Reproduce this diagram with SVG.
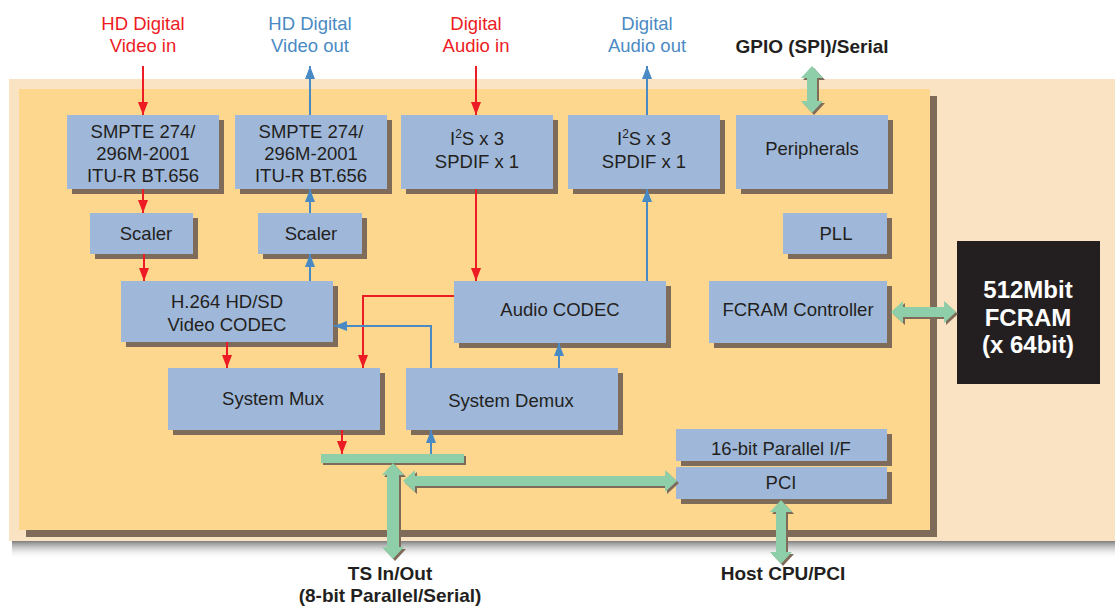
<svg xmlns="http://www.w3.org/2000/svg" width="1115" height="606" viewBox="0 0 1115 606">
<defs>
<style>
.box{fill:#9fb8d9}
.sh{fill:#7f6b5a}
.t{font-family:"Liberation Sans",Arial,sans-serif;font-size:18.5px;fill:#231f20;text-anchor:middle}
.lr{font-family:"Liberation Sans",Arial,sans-serif;font-size:18.5px;fill:#ed1c24;text-anchor:middle}
.lb{font-family:"Liberation Sans",Arial,sans-serif;font-size:18.5px;fill:#4a8ac4;text-anchor:middle}
.bold{font-family:"Liberation Sans",Arial,sans-serif;font-size:19px;font-weight:bold;fill:#231f20;text-anchor:middle}
.wt{font-family:"Liberation Sans",Arial,sans-serif;font-size:24px;font-weight:bold;fill:#ffffff;text-anchor:middle}
.wr{stroke:#ed1c24;stroke-width:2;fill:none;marker-end:url(#ar)}
.wb{stroke:#4a8ac4;stroke-width:2;fill:none;marker-end:url(#ab)}
.g{fill:#8ecfa9}
.gs{fill:#7f6b5a}
</style>
<marker id="ar" viewBox="0 0 13 10" refX="13" refY="5" markerWidth="13" markerHeight="10" orient="auto" markerUnits="userSpaceOnUse"><path d="M0,0 L13,5 L0,10 z" fill="#ed1c24"/></marker>
<marker id="ab" viewBox="0 0 13 10" refX="13" refY="5" markerWidth="13" markerHeight="10" orient="auto" markerUnits="userSpaceOnUse"><path d="M0,0 L13,5 L0,10 z" fill="#4a8ac4"/></marker>
<linearGradient id="shadowG" x1="0" y1="0" x2="0" y2="1">
<stop offset="0" stop-color="#6f6f6f" stop-opacity="0.9"/>
<stop offset="1" stop-color="#ffffff" stop-opacity="0"/>
</linearGradient>
</defs>

<g id="background">
<rect x="12" y="541" width="1103" height="18" fill="url(#shadowG)"/>
<rect x="9" y="79" width="1106" height="462" fill="#fae3c3"/>
<rect x="26" y="96" width="911" height="441" fill="#7f6b5a"/>
<rect x="19" y="89" width="911" height="441" fill="#fdd78e"/>
</g>

<g id="labels">
<text class="lr" x="143" y="30">HD Digital</text>
<text class="lr" x="143" y="52">Video in</text>
<text class="lb" x="310" y="30">HD Digital</text>
<text class="lb" x="310" y="52">Video out</text>
<text class="lr" x="476" y="30">Digital</text>
<text class="lr" x="476" y="52">Audio in</text>
<text class="lb" x="647" y="30">Digital</text>
<text class="lb" x="647" y="52">Audio out</text>
<text class="bold" x="812" y="53">GPIO (SPI)/Serial</text>
<text class="bold" x="390" y="580">TS In/Out</text>
<text class="bold" x="390" y="602">(8-bit Parallel/Serial)</text>
<text class="bold" x="783" y="580">Host CPU/PCI</text>
</g>

<g id="smpte-in">
<rect class="sh" x="72" y="120" width="152" height="74"/>
<rect class="box" x="67" y="115" width="152" height="74"/>
<text class="t" x="143" y="138">SMPTE 274/</text>
<text class="t" x="143" y="160">296M-2001</text>
<text class="t" x="143" y="182">ITU-R BT.656</text>
</g>
<g id="smpte-out">
<rect class="sh" x="240" y="120" width="152" height="74"/>
<rect class="box" x="235" y="115" width="152" height="74"/>
<text class="t" x="311" y="138">SMPTE 274/</text>
<text class="t" x="311" y="160">296M-2001</text>
<text class="t" x="311" y="182">ITU-R BT.656</text>
</g>
<g id="i2s-in">
<rect class="sh" x="406" y="120" width="152" height="74"/>
<rect class="box" x="401" y="115" width="152" height="74"/>
<text class="t" x="477" y="145">I<tspan font-size="12" dy="-7">2</tspan><tspan dy="7">S x 3</tspan></text>
<text class="t" x="477" y="168">SPDIF x 1</text>
</g>
<g id="i2s-out">
<rect class="sh" x="573" y="120" width="152" height="74"/>
<rect class="box" x="568" y="115" width="152" height="74"/>
<text class="t" x="644" y="145">I<tspan font-size="12" dy="-7">2</tspan><tspan dy="7">S x 3</tspan></text>
<text class="t" x="644" y="168">SPDIF x 1</text>
</g>
<g id="peripherals">
<rect class="sh" x="741" y="120" width="152" height="74"/>
<rect class="box" x="736" y="115" width="152" height="74"/>
<text class="t" x="812" y="155">Peripherals</text>
</g>
<g id="scaler-in">
<rect class="sh" x="95" y="218" width="103" height="41"/>
<rect class="box" x="90" y="213" width="103" height="41"/>
<text class="t" x="146" y="240">Scaler</text>
</g>
<g id="scaler-out">
<rect class="sh" x="263" y="218" width="104" height="41"/>
<rect class="box" x="258" y="213" width="104" height="41"/>
<text class="t" x="311" y="240">Scaler</text>
</g>
<g id="pll">
<rect class="sh" x="788" y="218" width="104" height="41"/>
<rect class="box" x="783" y="213" width="104" height="41"/>
<text class="t" x="836" y="240">PLL</text>
</g>
<g id="video-codec">
<rect class="sh" x="126" y="286" width="212" height="61"/>
<rect class="box" x="121" y="281" width="212" height="61"/>
<text class="t" x="227" y="308">H.264 HD/SD</text>
<text class="t" x="227" y="331">Video CODEC</text>
</g>
<g id="audio-codec">
<rect class="sh" x="459" y="286" width="212" height="62"/>
<rect class="box" x="454" y="281" width="212" height="62"/>
<text class="t" x="560" y="316">Audio CODEC</text>
</g>
<g id="fcram-controller">
<rect class="sh" x="714" y="286" width="178" height="62"/>
<rect class="box" x="709" y="281" width="178" height="62"/>
<text class="t" x="798" y="316">FCRAM Controller</text>
</g>
<g id="system-mux">
<rect class="sh" x="173" y="373" width="212" height="62"/>
<rect class="box" x="168" y="368" width="212" height="62"/>
<text class="t" x="273" y="405">System Mux</text>
</g>
<g id="system-demux">
<rect class="sh" x="411" y="373" width="212" height="62"/>
<rect class="box" x="406" y="368" width="212" height="62"/>
<text class="t" x="511" y="407">System Demux</text>
</g>
<g id="parallel-if">
<rect class="sh" x="681" y="434" width="211" height="32"/>
<rect class="box" x="676" y="429" width="211" height="32"/>
<text class="t" x="781" y="455">16-bit Parallel I/F</text>
</g>
<g id="pci">
<rect class="sh" x="681" y="472" width="211" height="32"/>
<rect class="box" x="676" y="467" width="211" height="32"/>
<text class="t" x="781" y="489">PCI</text>
</g>
<g id="fcram">
<rect x="957" y="241" width="143" height="143" fill="#231f20"/>
<text class="wt" x="1028" y="298">512Mbit</text>
<text class="wt" x="1028" y="326">FCRAM</text>
<text class="wt" x="1028" y="353">(x 64bit)</text>
</g>

<g id="connectors">
<path class="wr" d="M143,66 V115"/>
<path class="wr" d="M143,189 V213"/>
<path class="wr" d="M144,254 V281"/>
<path class="wr" d="M227,342 V368"/>
<path class="wr" d="M454,296 H363 V368"/>
<path class="wr" d="M476,66 V115"/>
<path class="wr" d="M476,189 V281"/>
<path class="wr" d="M342,430 V454"/>
<path class="wb" d="M310,115 V66"/>
<path class="wb" d="M310,213 V189"/>
<path class="wb" d="M310,281 V254"/>
<path class="wb" d="M431,454 V430"/>
<path class="wb" d="M431,368 V326 H334"/>
<path class="wb" d="M559,368 V343"/>
<path class="wb" d="M647,281 V189"/>
<path class="wb" d="M647,115 V66"/>

<g transform="translate(2,2)">
<polygon class="gs" points="812,66 823,78 817,78 817,101 823,101 812,113 801,101 807,101 807,78 801,78"/>
<polygon class="gs" points="891,312 903,301 903,307 944,307 944,301 956,312 944,323 944,317 903,317 903,323"/>
<polygon class="gs" points="393,463 404,475 399,475 399,547 404,547 393,559 382,547 387,547 387,475 382,475"/>
<polygon class="gs" points="403,481 415,470 415,476 665,476 665,470 677,481 665,492 665,486 415,486 415,492"/>
<polygon class="gs" points="781,500 792,512 786,512 786,552 792,552 781,564 770,552 776,552 776,512 770,512"/>
<rect class="gs" x="321" y="454" width="143" height="9"/>
</g>
<polygon class="g" points="812,66 823,78 817,78 817,101 823,101 812,113 801,101 807,101 807,78 801,78"/>
<polygon class="g" points="891,312 903,301 903,307 944,307 944,301 956,312 944,323 944,317 903,317 903,323"/>
<polygon class="g" points="393,463 404,475 399,475 399,547 404,547 393,559 382,547 387,547 387,475 382,475"/>
<polygon class="g" points="403,481 415,470 415,476 665,476 665,470 677,481 665,492 665,486 415,486 415,492"/>
<polygon class="g" points="781,500 792,512 786,512 786,552 792,552 781,564 770,552 776,552 776,512 770,512"/>
<rect class="g" x="321" y="454" width="143" height="9"/>
</g>
</svg>
